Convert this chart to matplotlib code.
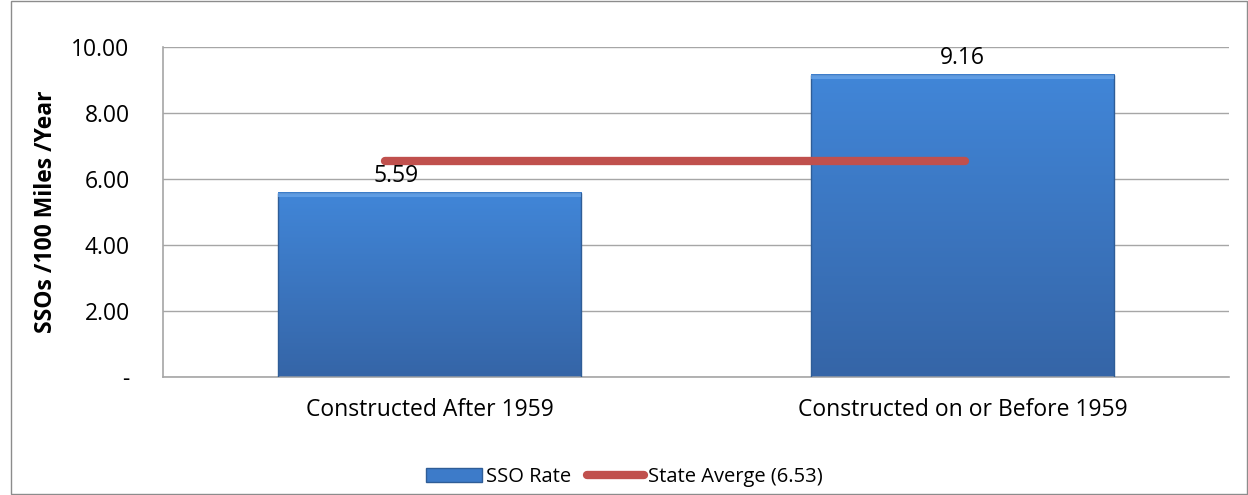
import numpy as np
import matplotlib
matplotlib.use('Agg')
import matplotlib.pyplot as plt
from matplotlib.patches import Rectangle
from matplotlib.lines import Line2D

plt.rcParams['font.family'] = ['Open Sans', 'DejaVu Sans']

categories = ['Constructed After 1959', 'Constructed on or Before 1959']
sso_rate = [5.59, 9.16]
state_avg = 6.53
avg_line_x = [-0.083, 1.005]
yticks = [0, 2, 4, 6, 8, 10]
ytick_labels = ['-', '2.00', '4.00', '6.00', '8.00', '10.00']

BAR_TOP = '#4186d8'
BAR_BOT = '#3565a7'
RED = '#c0504d'
GRID = '#a6a6a6'
FS = 16.5

fig = plt.figure(figsize=(12.48, 4.95), dpi=100)
ax = fig.add_axes([0.1306, 0.2384, 0.8542, 0.6667])

# bars with vertical gradient
width = 0.57
grad = np.linspace(0, 1, 256).reshape(-1, 1)
cmap = matplotlib.colors.LinearSegmentedColormap.from_list('b', [BAR_BOT, BAR_TOP])
for i, v in enumerate(sso_rate):
    x0 = i - width / 2
    ax.imshow(grad, extent=[x0, x0 + width, 0, v], origin='lower', cmap=cmap,
              aspect='auto', zorder=2)
    ax.add_patch(Rectangle((x0, 0), width, v, fill=False, edgecolor='#2f5d97',
                           linewidth=1.0, zorder=3))
    # light bevel at top
    ax.add_patch(Rectangle((x0, v - 0.14), width, 0.14, facecolor='#6aa6ea',
                           edgecolor='none', alpha=0.75, zorder=3))
ax.set_xlim(-0.5, 1.5)
ax.set_ylim(0, 10)

ax.text(0 - 0.062, sso_rate[0] + 0.15, f'{sso_rate[0]:.2f}', ha='center', va='bottom',
        fontsize=FS, color='#000000', zorder=5)
ax.text(1, sso_rate[1] + 0.15, f'{sso_rate[1]:.2f}', ha='center', va='bottom',
        fontsize=FS, color='#000000', zorder=5)

ax.plot(avg_line_x, [state_avg, state_avg], color=RED, linewidth=6,
        solid_capstyle='round', zorder=4)

ax.set_yticks(yticks)
ax.set_yticklabels(ytick_labels, fontsize=FS)
ax.set_xticks([0, 1])
ax.set_xticklabels(categories, fontsize=FS)
ax.tick_params(axis='both', length=0)
ax.tick_params(axis='y', pad=24)
ax.tick_params(axis='x', pad=15)
ax.yaxis.grid(True, color=GRID, linewidth=1)
ax.set_axisbelow(True)
for s in ['top', 'right']:
    ax.spines[s].set_visible(False)
for s in ['left', 'bottom']:
    ax.spines[s].set_color(GRID)
    ax.spines[s].set_linewidth(1.2)
ax.set_ylabel('SSOs /100 Miles /Year', fontsize=FS, fontweight='bold', labelpad=10)

handles = [Rectangle((0, 0), 1, 1, facecolor='#3d7bc9', edgecolor='#2f5d97'),
           Line2D([0], [0], color=RED, linewidth=6, solid_capstyle='round')]
fig.legend(handles, ['SSO Rate', 'State Averge (6.53)'], loc='center',
           bbox_to_anchor=(0.50, 0.036), ncol=2, frameon=False, fontsize=14.5,
           handlelength=2.8, handletextpad=0.2, columnspacing=0.8)

fig.add_artist(Rectangle((0.009, 0.002), 0.99, 0.996, transform=fig.transFigure,
                         fill=False, edgecolor='#8c8c8c', linewidth=1))

fig.savefig('out.png', dpi=100)
